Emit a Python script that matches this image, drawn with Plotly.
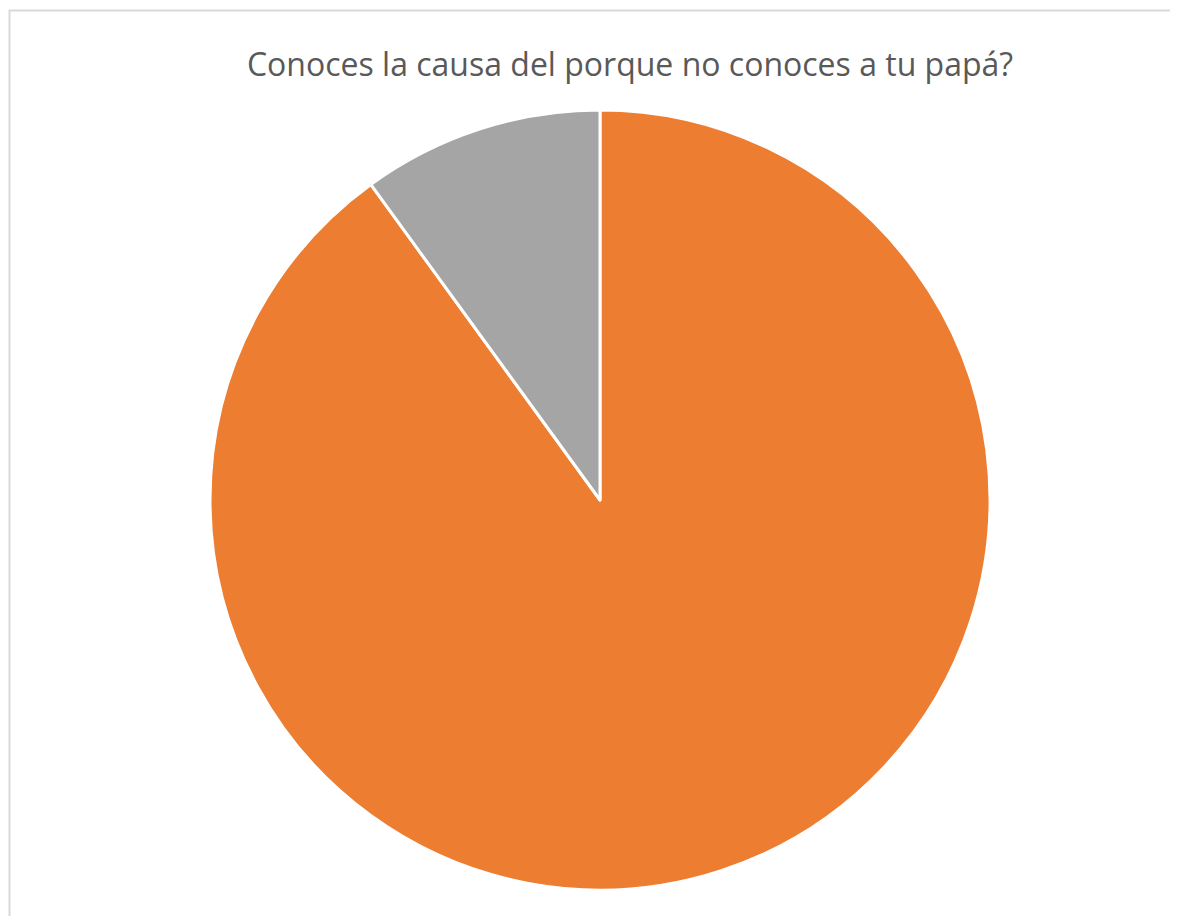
import plotly.graph_objects as go

labels = ["Sí", "No"]
values = [90, 10]
colors = ["#ED7D31", "#A5A5A5"]
title_text = "Conoces la causa del porque no conoces a tu papá?"

W, H = 1178, 916
off = 8  # default page body margin
cx, cy, r = 600 - off, 500 - off, 390

fig = go.Figure(go.Pie(
    labels=labels,
    values=values,
    sort=False,
    direction="clockwise",
    rotation=0,
    textinfo="none",
    hoverinfo="label+percent",
    marker=dict(colors=colors, line=dict(color="white", width=3)),
    domain=dict(x=[(cx - r) / W, (cx + r) / W], y=[1 - (cy + r) / H, 1 - (cy - r) / H]),
))

fig.update_layout(
    width=W, height=H,
    margin=dict(l=0, r=0, t=0, b=0),
    paper_bgcolor="white",
    showlegend=False,
    title=dict(text=title_text, x=(630 - off) / W, xanchor="center", y=1 - (65 - off) / H, yanchor="middle",
               font=dict(family="Open Sans", size=32, color="#595959")),
    shapes=[dict(type="rect", xref="paper", yref="paper",
                 x0=(9.5 - off) / W, x1=1.02, y0=-0.02, y1=1 - (10.5 - off) / H,
                 line=dict(color="#D9D9D9", width=2), fillcolor="rgba(0,0,0,0)")],
)

fig.write_html("out.html")
